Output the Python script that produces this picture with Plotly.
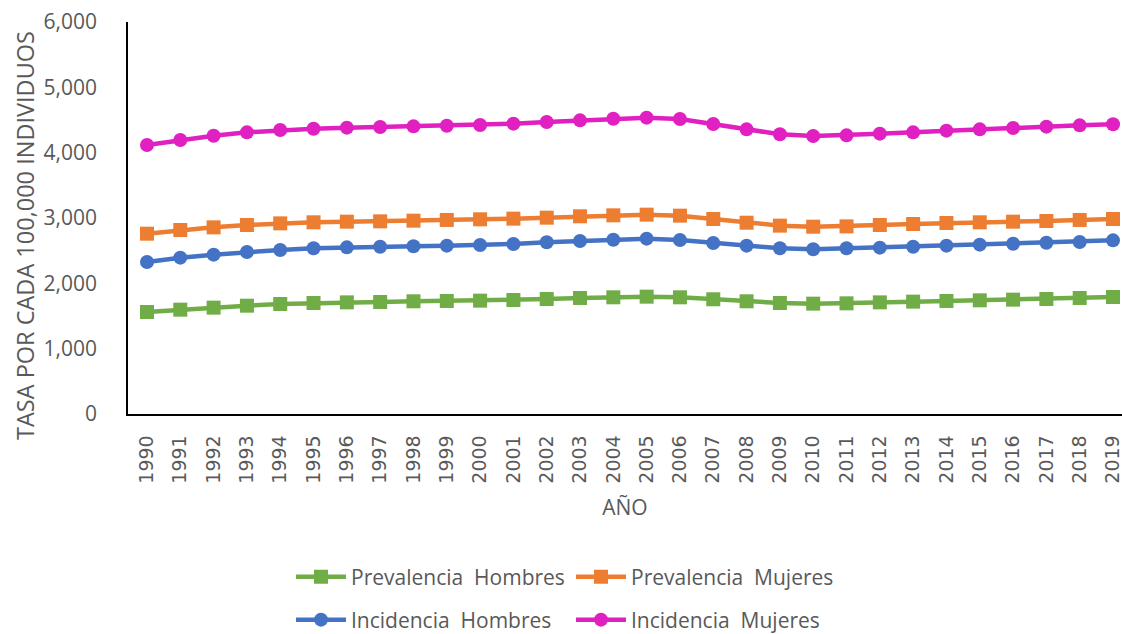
import plotly.graph_objects as go

years = list(range(1990, 2020))

prevalencia_hombres = [1561, 1597, 1628, 1658, 1684, 1699, 1709, 1714, 1725, 1730,
                       1735, 1745, 1760, 1776, 1786, 1796, 1786, 1756, 1725, 1699,
                       1689, 1694, 1709, 1720, 1730, 1740, 1750, 1760, 1776, 1791]
prevalencia_mujeres = [2760, 2816, 2857, 2893, 2918, 2934, 2944, 2949, 2959, 2970,
                       2980, 2990, 3005, 3026, 3041, 3051, 3036, 2985, 2928, 2883,
                       2867, 2872, 2893, 2908, 2924, 2934, 2944, 2954, 2970, 2985]
incidencia_hombres = [2327, 2393, 2439, 2480, 2510, 2536, 2551, 2561, 2567, 2577,
                      2587, 2602, 2628, 2648, 2668, 2684, 2663, 2617, 2577, 2536,
                      2521, 2536, 2546, 2561, 2577, 2592, 2607, 2622, 2633, 2658]
incidencia_mujeres = [4117, 4194, 4260, 4311, 4347, 4367, 4383, 4393, 4403, 4413,
                      4423, 4444, 4470, 4495, 4520, 4536, 4515, 4439, 4357, 4281,
                      4255, 4265, 4291, 4311, 4337, 4357, 4378, 4398, 4418, 4434]

y_ticks = [0, 1000, 2000, 3000, 4000, 5000, 6000]
y_tick_labels = ["0", "1,000", "2,000", "3,000", "4,000", "5,000", "6,000"]

TEXT = "#595959"
FONT = "Open Sans"

series = [
    ("Prevalencia  Hombres", prevalencia_hombres, "#70AD47", "square", "legend"),
    ("Prevalencia  Mujeres", prevalencia_mujeres, "#ED7D31", "square", "legend"),
    ("Incidencia  Hombres", incidencia_hombres, "#4472C4", "circle", "legend2"),
    ("Incidencia  Mujeres", incidencia_mujeres, "#E020C0", "circle", "legend2"),
]

fig = go.Figure()
for name, vals, color, symbol, leg in series:
    fig.add_trace(go.Scatter(
        x=years, y=vals, name=name, mode="lines+markers",
        line=dict(color=color, width=4.5),
        marker=dict(color=color, symbol=symbol, size=14),
        legend=leg,
    ))

legend_common = dict(
    orientation="h", xref="paper", yref="container", xanchor="left", yanchor="middle",
    font=dict(family=FONT, size=21, color=TEXT),
    itemwidth=50, entrywidth=215, entrywidthmode="pixels",
    bgcolor="rgba(0,0,0,0)", tracegroupgap=0,
)

fig.update_layout(
    width=1122, height=634,
    margin=dict(l=128, r=0, t=22, b=220),
    paper_bgcolor="white", plot_bgcolor="white",
    font=dict(family=FONT, color=TEXT),
    showlegend=True,
    legend=dict(legend_common, x=(291 - 128) / 994, y=(634 - 577) / 634),
    legend2=dict(legend_common, x=(291 - 128) / 994, y=(634 - 620) / 634),
    xaxis=dict(
        range=[1989.43, 2019.27], tickmode="linear", tick0=1990, dtick=1,
        tickangle=-90, showgrid=False, zeroline=False,
        showline=True, linecolor="black", linewidth=1.5,
        ticks="", ticklabelstandoff=12, ticklabeloverflow="allow",
        tickfont=dict(family="DejaVu Sans", size=19, color=TEXT),
        title=dict(text="AÑO", font=dict(family=FONT, size=21, color=TEXT), standoff=18),
    ),
    yaxis=dict(
        range=[0, 6000], tickvals=y_ticks, ticktext=y_tick_labels,
        showgrid=False, zeroline=False,
        showline=True, linecolor="black", linewidth=1.5,
        ticks="", ticklabelstandoff=25,
        tickfont=dict(family=FONT, size=21, color=TEXT),
    ),
    annotations=[dict(
        text="TASA POR CADA 100,000 INDIVIDUOS", textangle=-90,
        xref="paper", yref="paper", x=-(128 - 25) / 994, y=(414 - 236) / 392,
        xanchor="center", yanchor="middle", showarrow=False,
        font=dict(family=FONT, size=23.5, color=TEXT),
    )],
)

fig.write_html("out.html")
